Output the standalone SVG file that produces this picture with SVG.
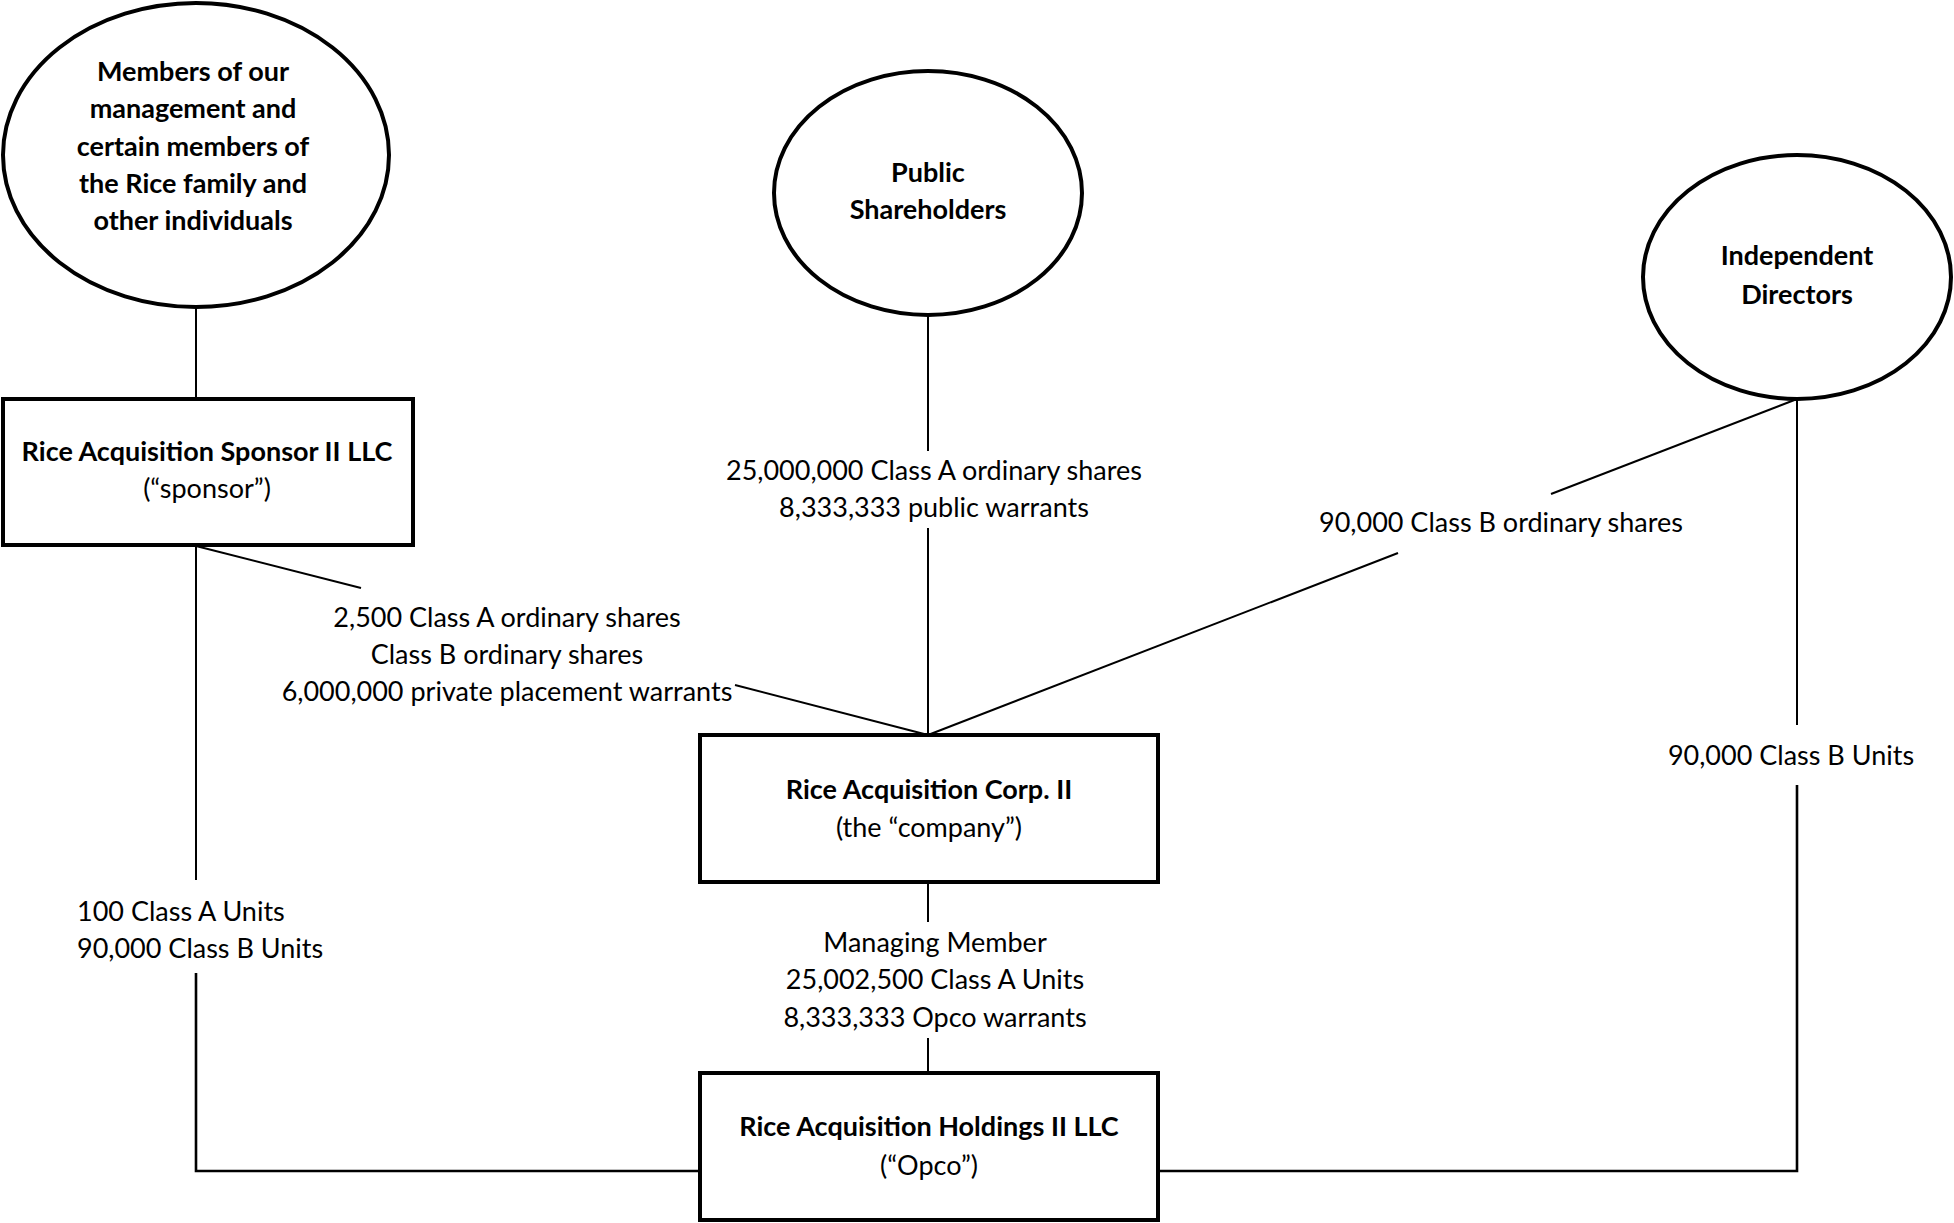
<svg xmlns="http://www.w3.org/2000/svg" width="1954" height="1223" viewBox="0 0 1954 1223">
<style>
.node{fill:#fff;stroke:#000;stroke-width:4}
.b{font-family:Lato,"Open Sans","Liberation Sans",sans-serif;font-weight:bold;font-size:27px;text-anchor:middle;fill:#000}
.r{font-family:Lato,"Open Sans","Liberation Sans",sans-serif;font-size:27px;text-anchor:middle;fill:#000}
.l{text-anchor:start}
.c{fill:none;stroke:#000;stroke-width:2}
.h{stroke-width:2.6}
</style>
<rect width="1954" height="1223" fill="#fff"/>
<g id="connectors">
<line class="c" x1="196" y1="307" x2="196" y2="399"/>
<line class="c" x1="196" y1="546" x2="196" y2="880"/>
<polyline class="c h" points="196,973 196,1171 700,1171"/>
<line class="c" x1="196" y1="546" x2="361" y2="588"/>
<line class="c" x1="735" y1="685" x2="928" y2="735"/>
<line class="c" x1="928" y1="315" x2="928" y2="451"/>
<line class="c" x1="928" y1="528" x2="928" y2="735"/>
<line class="c" x1="1797" y1="399" x2="1551" y2="494"/>
<line class="c" x1="1398" y1="553" x2="928" y2="735"/>
<line class="c" x1="1797" y1="399" x2="1797" y2="725"/>
<polyline class="c h" points="1797,785 1797,1171 1158,1171"/>
<line class="c" x1="928" y1="882" x2="928" y2="922"/>
<line class="c" x1="928" y1="1038" x2="928" y2="1073"/>
</g>
<g id="labels">
<text class="r" x="934" y="480">25,000,000 Class A ordinary shares</text>
<text class="r" x="934" y="517">8,333,333 public warrants</text>
<text class="r" x="1501" y="532">90,000 Class B ordinary shares</text>
<text class="r" x="1791" y="765">90,000 Class B Units</text>
<text class="r" x="507" y="627">2,500 Class A ordinary shares</text>
<text class="r" x="507" y="664">Class B ordinary shares</text>
<text class="r" x="507" y="701">6,000,000 private placement warrants</text>
<text class="r l" x="77" y="921">100 Class A Units</text>
<text class="r l" x="77" y="958">90,000 Class B Units</text>
<text class="r" x="935" y="952">Managing Member</text>
<text class="r" x="935" y="989">25,002,500 Class A Units</text>
<text class="r" x="935" y="1027">8,333,333 Opco warrants</text>
</g>
<g id="members">
<ellipse class="node" cx="196" cy="155" rx="193" ry="152"/>
<text class="b" x="193" y="81">Members of our</text>
<text class="b" x="193" y="118">management and</text>
<text class="b" x="193" y="156">certain members of</text>
<text class="b" x="193" y="193">the Rice family and</text>
<text class="b" x="193" y="230">other individuals</text>
</g>
<g id="public">
<ellipse class="node" cx="928" cy="193" rx="154" ry="122"/>
<text class="b" x="928" y="182">Public</text>
<text class="b" x="928" y="219">Shareholders</text>
</g>
<g id="independent">
<ellipse class="node" cx="1797" cy="277" rx="154" ry="122"/>
<text class="b" x="1797" y="265">Independent</text>
<text class="b" x="1797" y="304">Directors</text>
</g>
<g id="sponsor">
<rect class="node" x="3" y="399" width="410" height="146"/>
<text class="b" x="207" y="461">Rice Acquisition Sponsor II LLC</text>
<text class="r" x="207" y="498">(“sponsor”)</text>
</g>
<g id="company">
<rect class="node" x="700" y="735" width="458" height="147"/>
<text class="b" x="929" y="799">Rice Acquisition Corp. II</text>
<text class="r" x="929" y="837">(the “company”)</text>
</g>
<g id="opco">
<rect class="node" x="700" y="1073" width="458" height="147"/>
<text class="b" x="929" y="1136">Rice Acquisition Holdings II LLC</text>
<text class="r" x="929" y="1175">(“Opco”)</text>
</g>
</svg>
